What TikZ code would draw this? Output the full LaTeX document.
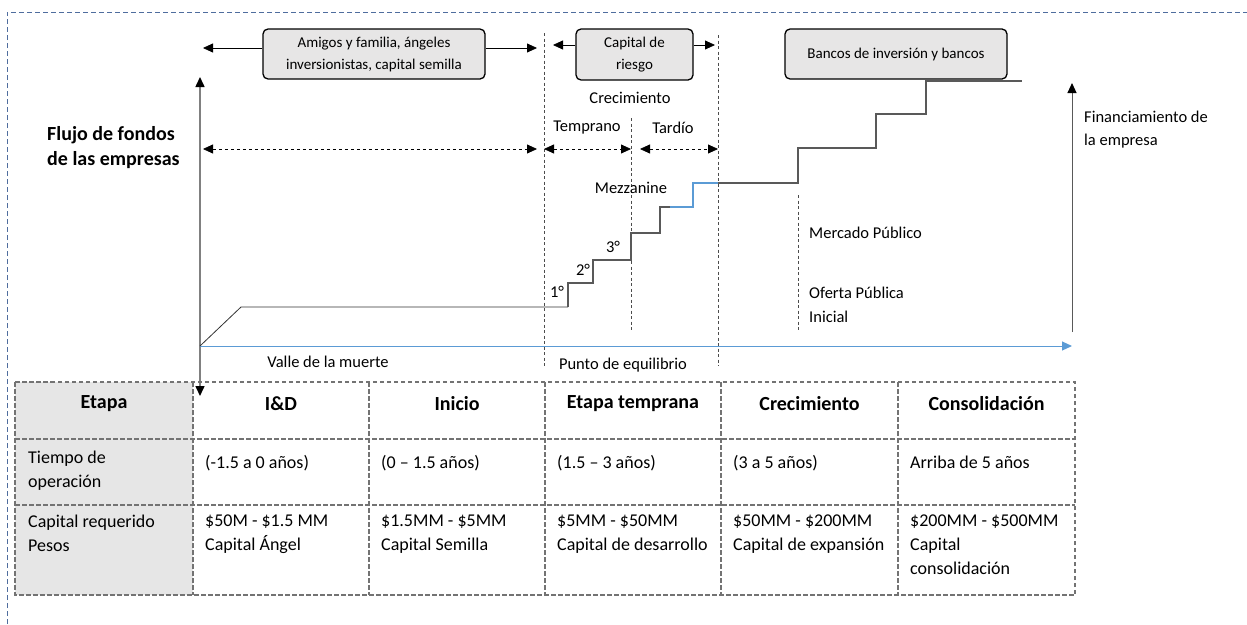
\documentclass[tikz,border=0pt]{standalone}
\usepackage{fontspec}
\setmainfont{Carlito}
\usetikzlibrary{arrows.meta,positioning}

\definecolor{ejeazul}{HTML}{5B9BD5}
\definecolor{cajagris}{HTML}{E7E6E6}
\definecolor{celdagris}{HTML}{E6E6E6}
\definecolor{marcoazul}{HTML}{4F6D9E}
\definecolor{escalongris}{HTML}{595959}

\tikzset{
  caja/.style={rounded corners=5pt, draw=black, line width=1.3pt, fill=cajagris, align=center, font=\fontsize{15}{22}\selectfont},
  punta/.style={-{Triangle[length=10pt,width=9pt]}},
  dospuntas/.style={{Triangle[length=10pt,width=9pt]}-{Triangle[length=10pt,width=9pt]}},
  etiqueta/.style={font=\fontsize{16.5}{23}\selectfont},
  varias/.style={anchor=north west, inner sep=0pt, align=left, execute at begin node=\strut},
  celda/.style={varias, font=\fontsize{18}{24}\selectfont},
  encabezado/.style={font=\bfseries\fontsize{20}{24}\selectfont},
  guia/.style={draw=black!70, dash pattern=on 3pt off 2.5pt, line width=0.7pt},
  tabla/.style={draw=black!55, dash pattern=on 4.5pt off 2.5pt, line width=1.1pt},
  marco/.style={draw=marcoazul, dash pattern=on 5pt off 3pt, line width=0.9pt},
  escalon/.style={draw=escalongris, line width=1.1pt}
}

\begin{document}
\begin{tikzpicture}[x=1pt,y=-1pt]
    \useasboundingbox (0,0) rectangle (1247,624);

    % marco exterior
    \draw[marco] (7,624) -- (7,12) -- (1247,12);

    % cajas de financiamiento
    \node[caja, minimum width=222pt, minimum height=50pt] (amigos) at (374,54) {Amigos y familia, ángeles\\inversionistas, capital semilla};
    \node[caja, minimum width=117pt, minimum height=51pt] (riesgo) at (634.5,54.5) {Capital de\\riesgo};
    \node[caja, minimum width=222pt, minimum height=50pt] (bancos) at (896,54) {Bancos de inversión y bancos};

    \coordinate (a1) at (203,48);
    \coordinate (a2) at (537,48);
    \coordinate (r1) at (553,45);
    \coordinate (r2) at (715,45);
    \draw[punta, line width=0.8pt] (amigos.west |- a1) -- (a1);
    \draw[punta, line width=0.8pt] (amigos.east |- a2) -- (a2);
    \draw[punta, line width=0.8pt] (riesgo.west |- r1) -- (r1);
    \draw[punta, line width=0.8pt] (riesgo.east |- r2) -- (r2);

    % guias verticales
    \draw[guia] (544,33) -- (544,366);
    \draw[guia] (631,118) -- (631,332);
    \draw[guia] (718,35) -- (718,366);
    \draw[guia] (798,195) -- (798,330);

    % etapas
    \node[etiqueta] (crec) at (630,98) {Crecimiento};
    \node[etiqueta] (temp) at (587,128) {Temprano};
    \node[etiqueta] (tard) at (673,128) {Tardío};

    \coordinate (d1) at (203,149);
    \coordinate (d2) at (537,149);
    \coordinate (t1) at (544,149);
    \coordinate (t2) at (631,149);
    \coordinate (t3) at (640,149);
    \coordinate (t4) at (718,149);
    \draw[dospuntas, dashed, line width=0.8pt] (d1) -- (d2);
    \draw[dospuntas, dashed, line width=0.8pt] (t1) -- (t2);
    \draw[dospuntas, dashed, line width=0.8pt] (t3) -- (t4);

    \node[varias, font=\bfseries\fontsize{20}{25}\selectfont] (flujo) at (47,126) {Flujo de fondos\\de las empresas};

    % ejes
    \coordinate (origen) at (200,346);
    \coordinate (yarriba) at (200,77);
    \coordinate (yabajo) at (200,396);
    \coordinate (xfin) at (1072,346);
    \coordinate (fbase) at (1072,332);
    \coordinate (farriba) at (1072,83);
    \draw[draw=black!50, line width=1.5pt, {Triangle[length=10pt,width=9pt,color=black]}-{Triangle[length=10pt,width=9pt,color=black]}] (yabajo) -- (yarriba);
    \draw[draw=ejeazul, line width=1pt, -{Triangle[length=10pt,width=9pt]}] (origen) -- (xfin);
    \draw[draw=black!65, line width=1pt, -{Triangle[length=10pt,width=9pt,color=black]}] (fbase) -- (farriba);

    % escalones
    \draw[line width=0.8pt, draw=black!80] (origen) -- (241,307) -- (568,307);
    \draw[escalon] (568,307) -- (568,283) -- (593,283) -- (593,260) -- (631,260) -- (631,233) -- (660,233) -- (660,207) -- (693,207) -- (693,183) -- (798,183) -- (798,148) -- (876,148) -- (876,114) -- (926,114) -- (926,81) -- (1022,81);
    \draw[draw=ejeazul, line width=1.1pt] (670,207) -- (693,207) -- (693,183) -- (718,183);

    \node[etiqueta] (g1) at (557,292) {1°};
    \node[etiqueta] (g2) at (583,270) {2°};
    \node[etiqueta] (g3) at (613,247) {3°};
    \node[etiqueta] (mezz) at (631,188) {Mezzanine};
    \node[etiqueta, anchor=west, inner sep=0pt] (mercado) at (809,233) {Mercado Público};
    \node[varias, font=\fontsize{16.5}{24}\selectfont] (oferta) at (809,287) {Oferta Pública\\Inicial};
    \node[varias, font=\fontsize{16.5}{23}\selectfont] (finan) at (1084,111) {Financiamiento de\\la empresa};
    \node[etiqueta] (valle) at (328,362) {Valle de la muerte};
    \node[etiqueta] (punto) at (623,365) {Punto de equilibrio};

    % tabla de etapas
    \fill[celdagris] (15,382) rectangle (193,595);
    \draw[tabla] (15,382) rectangle (1075,595);
    \foreach \y in {439,505} \draw[tabla] (15,\y) -- (1075,\y);
    \foreach \x in {193,369,545,721,898} \draw[tabla] (\x,382) -- (\x,595);

    \foreach \x/\txt [count=\i] in {104/Etapa, 281/I\&D, 457/Inicio, 633/Etapa temprana, 809.5/Crecimiento, 986.5/Consolidación}
      \node[encabezado] (h\i) at (\x,404) {\txt};

    \foreach \x/\tiempo/\capital [count=\i] in {
        28/{Tiempo de\\operación}/{Capital requerido\\Pesos},
        205/{(-1.5 a 0 años)}/{\$50M - \$1.5 MM\\Capital Ángel},
        381/{(0 – 1.5 años)}/{\$1.5MM - \$5MM\\Capital Semilla},
        557/{(1.5 – 3 años)}/{\$5MM - \$50MM\\Capital de desarrollo},
        733/{(3 a 5 años)}/{\$50MM - \$200MM\\Capital de expansión},
        910/{Arriba de 5 años}/{\$200MM - \$500MM\\Capital\\consolidación}}
    {
      \node[celda] (t\i) at (\x,451) {\tiempo};
      \node[celda] (c\i) at (\x,515) {\capital};
    }

  \end{tikzpicture}
\end{document}
